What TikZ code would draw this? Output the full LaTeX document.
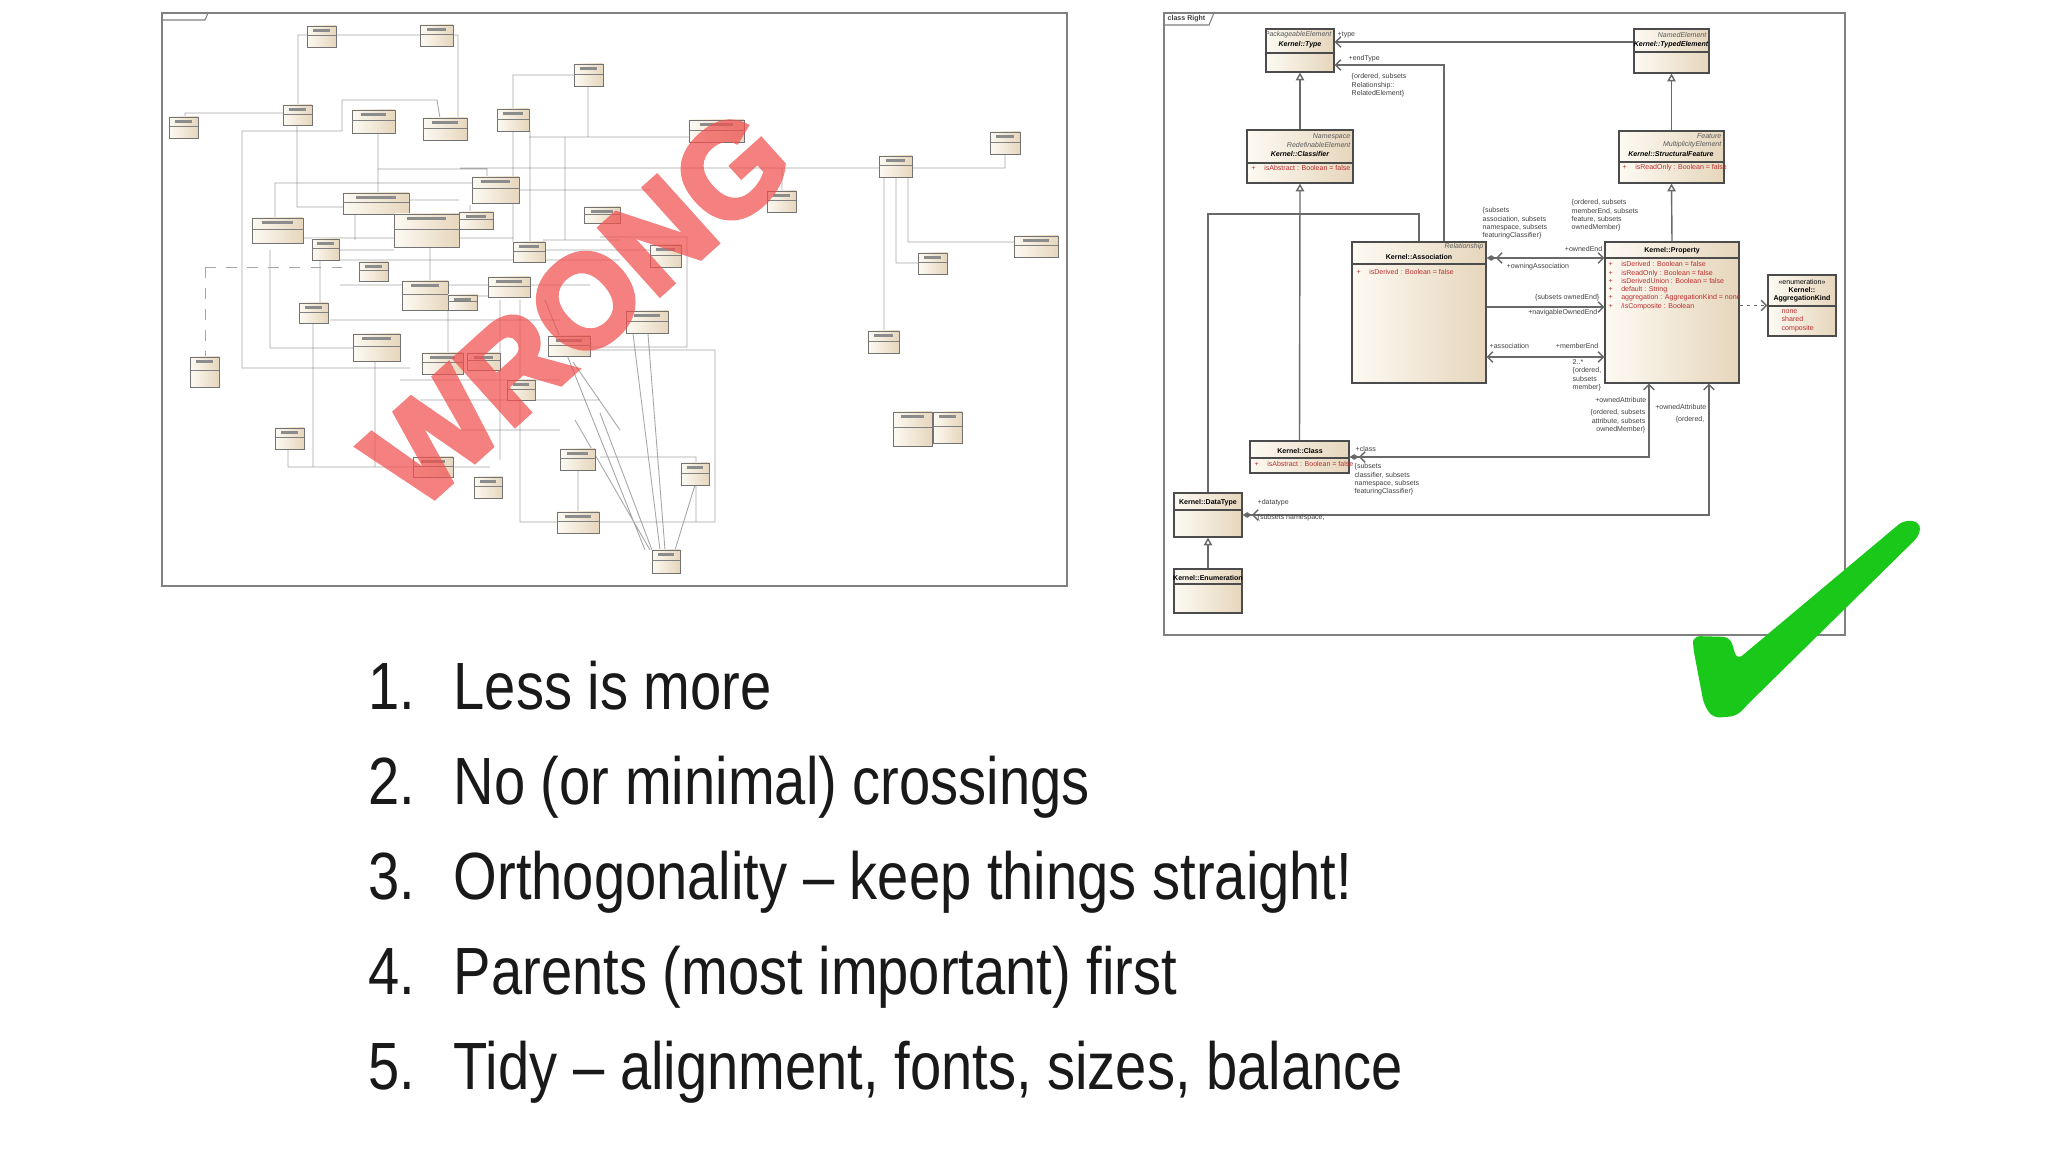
\documentclass[tikz,border=0pt]{standalone}
\usepackage{fontspec}
\setmainfont{Liberation Sans}
\newfontfamily\listfont[FakeStretch=0.84]{Liberation Sans}
\newfontfamily\stampfont[BoldFeatures={FakeBold=4}]{Liberation Sans}
\usetikzlibrary{positioning, fit, arrows.meta, shadows}

\definecolor{classlight}{RGB}{253,250,243}
\definecolor{classdark}{RGB}{230,214,188}
\definecolor{attrred}{RGB}{185,45,45}
\definecolor{linegray}{RGB}{105,105,105}
\definecolor{wrongred}{RGB}{240,80,80}
\definecolor{tickgreen}{RGB}{25,200,25}

\tikzset{umlclass/.style={draw=black!70, line width=0.35pt, left color=classlight, right color=classdark, inner sep=0pt, drop shadow={shadow xshift=0.35pt, shadow yshift=-0.35pt, fill=black!40, opacity=0.6}},
         sepline/.style={draw=black!70, line width=0.3pt},
         cname/.style={font=\fontsize{2}{2.4}\selectfont\bfseries, inner sep=0pt},
         aname/.style={font=\fontsize{2}{2.4}\selectfont\bfseries\itshape, inner sep=0pt},
         parent/.style={font=\fontsize{2}{2.4}\selectfont\itshape, text=black!65, inner sep=0pt},
         attr/.style={font=\fontsize{2}{2.36}\selectfont, text=attrred, inner sep=0pt, align=left},
         lbl/.style={font=\fontsize{2}{2.36}\selectfont, text=black!75, inner sep=0pt, align=left},
         conn/.style={draw=linegray, line width=0.4pt},
         gen/.style={conn, -{Triangle[open, length=2.2pt, width=2.4pt]}},
         nav/.style={conn, -{Straight Barb[length=1.5pt, width=3pt]}},
         navboth/.style={conn, {Straight Barb[length=1.5pt, width=3pt]}-{Straight Barb[length=1.5pt, width=3pt]}},
         comp/.style={conn, {Diamond[length=2.6pt, width=1.6pt] Straight Barb[length=1.5pt, width=3pt]}-{Straight Barb[length=1.5pt, width=3pt]}},
         dep/.style={conn, dashed, dash pattern=on 1pt off 1pt, -{Straight Barb[length=1.5pt, width=3pt]}},
         frame/.style={draw=black!50, line width=0.6pt},
         messline/.style={draw=black!35, line width=0.25pt},
         minibox/.style={draw=black!55, line width=0.2pt, left color=classlight, right color=classdark},
         listitem/.style={font=\listfont\fontsize{19}{23}\selectfont, text=black!90, inner sep=0pt}}

\newcommand{\plus}{+\hspace{2.4pt}}

\begin{document}
\begin{tikzpicture}[x=0.01cm, y=-0.01cm]
        \useasboundingbox (0,0) rectangle (2048,1152);
        \fill[white] (0,0) rectangle (2048,1152);

        % wrong diagram
        \draw[frame] (162,13) rectangle (1067,586);
        \draw[frame, line width=0.3pt] (162,20) -- (205,20) -- (208,13);
        \draw[messline] (307,35) -- (298,35) -- (298,105) (336,35) -- (420,35)
            (453,35) -- (458,35) -- (458,118) (185,117) -- (185,113) -- (283,113)
            (242,131) -- (242,368) -- (410,368) (242,131) -- (342,131) -- (342,100) -- (437,100) -- (440,118)
            (297,125) -- (297,207) -- (343,207) (275,218) -- (275,183) -- (473,183)
            (378,133) -- (378,193) (378,169) -- (487,169) -- (487,177)
            (513,131) -- (513,242) (530,131) -- (530,242) (529,137) -- (689,137)
            (513,109) -- (513,75) -- (574,75) (588,86) -- (588,137)
            (460,168) -- (1005,168) -- (1005,154) (782,168) -- (782,191)
            (519,190) -- (650,190) (303,238) -- (513,238) (545,250) -- (650,250)
            (884,177) -- (884,331) (896,177) -- (896,263) -- (918,263) (908,177) -- (908,242) -- (1014,242)
            (270,250) -- (270,348) -- (353,348) (313,323) -- (313,467)
            (288,449) -- (288,467) -- (490,467) (375,361) -- (375,467)
            (520,300) -- (520,522) -- (557,522) (578,470) -- (578,512)
            (600,237) -- (687,237) -- (687,347) -- (560,347)
            (560,350) -- (715,350) -- (715,522) -- (560,522) (600,457) -- (696,457) -- (696,522)
            (600,413) -- (652,550) (633,334) -- (660,550) (648,334) -- (665,550)
            (695,485) -- (675,550) (575,420) -- (650,550) (545,300) -- (645,550) (573,362) -- (620,430)
            (339,250) -- (394,250) (409,200) -- (459,200) (320,260) -- (320,303)
            (430,247) -- (430,281) (448,310) -- (448,353) (467,296) -- (488,296)
            (330,320) -- (560,320) (340,285) -- (590,285) (565,137) -- (565,240)
            (543,240) -- (620,240) (340,260) -- (620,260) (400,380) -- (560,380)
            (420,400) -- (600,400) (460,430) -- (560,430) (500,300) -- (500,460)
            (355,215) -- (355,240) (470,205) -- (470,230);
        \draw[messline, dashed] (205,267) -- (205,357) (205,267) -- (345,267);
        \foreach \xa/\ya/\xb/\yb in {307/26/336/47, 420/25/453/46, 574/64/603/86, 169/117/198/138,
            283/105/312/125, 352/110/395/133, 423/118/467/140, 497/109/529/131, 472/177/519/203,
            343/193/409/214, 252/218/303/243, 312/239/339/260, 394/214/459/247, 459/212/493/229,
            513/242/545/262, 359/262/388/281, 488/277/530/297, 402/281/448/310, 448/295/477/310,
            584/207/620/223, 299/303/328/323, 353/334/400/361, 190/357/219/387, 422/353/463/374,
            467/353/500/370, 507/380/535/400, 548/336/590/356, 275/428/304/449, 413/457/453/477,
            474/477/502/498, 560/449/595/470, 557/512/599/533, 689/120/744/142, 767/191/796/212,
            879/156/912/177, 990/132/1020/154, 918/253/947/274, 1014/236/1058/257, 650/245/681/267,
            626/311/668/333, 868/331/899/353, 893/412/932/446, 933/412/962/443, 681/463/709/485,
            652/550/680/573}{
            \draw[minibox] (\xa,\ya) rectangle (\xb,\yb);
            \fill[black!45] ({\xa+0.2*(\xb-\xa)},{\ya+3}) rectangle ({\xb-0.2*(\xb-\xa)},{\ya+6});
            \draw[black!50, line width=0.15pt] (\xa,{\ya+0.45*(\yb-\ya)}) -- (\xb,{\ya+0.45*(\yb-\ya)});
        }
        \begin{scope}[transparency group, opacity=0.72]
            \node (wrong) [rotate=42, text=wrongred, inner sep=0pt, font=\stampfont\bfseries\fontsize{37}{37}\selectfont] at (578,308) {WRONG};
        \end{scope}

        % right diagram
        \draw[frame] (1164,13) rectangle (1845,635);
        \draw[frame, line width=0.3pt] (1164,25) -- (1209,25) -- (1214,13);
        \node [lbl, font=\fontsize{2}{2.4}\selectfont\bfseries, anchor=west] at (1167,19) {class Right};

        \node (type) [umlclass, fit={(1266,29) (1334,72)}] {};
        \draw[sepline] (type.west |- 0,53) -- (type.east |- 0,53);
        \node [parent, anchor=east] at (1332,35) {PackageableElement};
        \node [aname] at (1300,45) {Kernel::Type};

        \node (classifier) [umlclass, fit={(1247,130) (1353,183)}] {};
        \draw[sepline] (classifier.west |- 0,163) -- (classifier.east |- 0,163);
        \node [parent, anchor=east] at (1351,137) {Namespace};
        \node [parent, anchor=east] at (1351,145) {RedefinableElement};
        \node [aname] at (1300,154) {Kernel::Classifier};
        \node [attr, anchor=west] at (1251,168) {\plus isAbstract : Boolean = false};

        \node (typed) [umlclass, fit={(1634,29) (1709,73)}] {};
        \draw[sepline] (typed.west |- 0,52) -- (typed.east |- 0,52);
        \node [parent, anchor=east] at (1707,35) {NamedElement};
        \node [aname] at (1671,45) {Kernel::TypedElement};

        \node (sfeat) [umlclass, fit={(1619,131) (1724,183)}] {};
        \draw[sepline] (sfeat.west |- 0,162) -- (sfeat.east |- 0,162);
        \node [parent, anchor=east] at (1722,136) {Feature};
        \node [parent, anchor=east] at (1722,145) {MultiplicityElement};
        \node [aname] at (1671,154) {Kernel::StructuralFeature};
        \node [attr, anchor=west] at (1622,168) {\plus isReadOnly : Boolean = false};

        \node (assoc) [umlclass, fit={(1352,242) (1486,383)}] {};
        \draw[sepline] (assoc.west |- 0,264) -- (assoc.east |- 0,264);
        \node [parent, anchor=east] at (1484,247) {Relationship};
        \node [cname] at (1419,257) {Kernel::Association};
        \node [attr, anchor=west] at (1356,272) {\plus isDerived : Boolean = false};

        \node (prop) [umlclass, fit={(1605,242) (1739,383)}] {};
        \draw[sepline] (prop.west |- 0,258) -- (prop.east |- 0,258);
        \node [cname] at (1672,251) {Kernel::Property};
        \node [attr, anchor=north west] at (1608,261) {\plus isDerived : Boolean = false\\
            \plus isReadOnly : Boolean = false\\ \plus isDerivedUnion : Boolean = false\\
            \plus default : String\\ \plus aggregation : AggregationKind = none\\ \plus /isComposite : Boolean};

        \node (aggr) [umlclass, fit={(1768,275) (1836,336)}] {};
        \draw[sepline] (aggr.west |- 0,306) -- (aggr.east |- 0,306);
        \node [lbl, text=black] at (1802,282) {«enumeration»};
        \node [cname] at (1802,290) {Kernel::};
        \node [cname] at (1802,299) {AggregationKind};
        \node [attr, anchor=north west] at (1781,309) {none\\ shared\\ composite};

        \node (kclass) [umlclass, fit={(1250,441) (1349,473)}] {};
        \draw[sepline] (kclass.west |- 0,458) -- (kclass.east |- 0,458);
        \node [cname] at (1300,451) {Kernel::Class};
        \node [attr, anchor=west] at (1254,464) {\plus isAbstract : Boolean = false};

        \node (datatype) [umlclass, fit={(1174,493) (1242,537)}] {};
        \draw[sepline] (datatype.west |- 0,510) -- (datatype.east |- 0,510);
        \node [cname] at (1208,503) {Kernel::DataType};

        \node (kenum) [umlclass, fit={(1174,569) (1242,613)}] {};
        \draw[sepline] (kenum.west |- 0,584) -- (kenum.east |- 0,584);
        \node [cname] at (1208,578) {Kernel::Enumeration};

        \draw[gen] (classifier.north) -- (type.south);
        \draw[gen] (sfeat.north) -- (typed.south);
        \draw[gen] (prop.north) -- (sfeat.south);
        \draw[gen] (kclass.north) -- (classifier.south);
        \draw[conn] (datatype.north) |- (classifier.south |- 0,214) -| (assoc.north);
        \draw[gen] (kenum.north) -- (datatype.south);
        \draw[nav] (typed.west |- 0,42) -- (type.east |- 0,42);
        \draw[nav] (assoc.north -| 1444,0) |- (type.east |- 0,65);
        \draw[comp] (assoc.east |- 0,258) -- (prop.west |- 0,258);
        \draw[nav] (assoc.east |- 0,307) -- (prop.west |- 0,307);
        \draw[navboth] (assoc.east |- 0,357) -- (prop.west |- 0,357);
        \draw[comp] (kclass.east) -| (prop.south -| 1649,0);
        \draw[comp] (datatype.east) -| (prop.south -| 1709,0);
        \draw[dep] (prop.east |- aggr.west) -- (aggr.west);

        \node [lbl, anchor=west] at (1337,35) {+type};
        \node [lbl, anchor=west] at (1348,59) {+endType};
        \node [lbl, anchor=north west] at (1351,73) {\{ordered, subsets\\ Relationship::\\ RelatedElement\}};
        \node [lbl, anchor=north west] at (1482,207) {\{subsets\\ association, subsets\\ namespace, subsets\\ featuringClassifier\}};
        \node [lbl, anchor=north west] at (1571,199) {\{ordered, subsets\\ memberEnd, subsets\\ feature, subsets\\ ownedMember\}};
        \node [lbl, anchor=east] at (1603,249) {+ownedEnd};
        \node [lbl, anchor=west] at (1506,267) {+owningAssociation};
        \node [lbl, anchor=east] at (1600,298) {\{subsets ownedEnd\}};
        \node [lbl, anchor=east] at (1598,313) {+navigableOwnedEnd};
        \node [lbl, anchor=west] at (1489,346) {+association};
        \node [lbl, anchor=east] at (1599,346) {+memberEnd};
        \node [lbl, anchor=north west] at (1572,359) {2..*\\ \{ordered,\\ subsets\\ member\}};
        \node [lbl, anchor=east] at (1647,400) {+ownedAttribute};
        \node [lbl, anchor=north east, align=right] at (1646,409) {\{ordered, subsets\\ attribute, subsets\\ ownedMember\}};
        \node [lbl, anchor=east] at (1707,407) {+ownedAttribute};
        \node [lbl, anchor=east] at (1705,420) {\{ordered,};
        \node [lbl, anchor=west] at (1355,449) {+class};
        \node [lbl, anchor=north west] at (1354,463) {\{subsets\\ classifier, subsets\\ namespace, subsets\\ featuringClassifier\}};
        \node [lbl, anchor=west] at (1257,503) {+datatype};
        \node [lbl, anchor=west] at (1257,518) {\{subsets namespace,};

        % tick
        \fill[tickgreen, rounded corners=2pt] (1693,636) -- (1730,637) -- (1737,660) -- (1904,520) -- (1920,522)
            -- (1920,535) -- (1747,705) -- (1737,716) -- (1713,718) -- (1704,705) -- (1693,647) -- cycle;

        % rules
        \node (num1) [listitem, anchor=base west] at (368,709) {1.};
        \node (item1) [listitem, anchor=base west] at (453,709) {Less is more};
        \node (num2) [listitem, anchor=base west] at (368,804) {2.};
        \node (item2) [listitem, anchor=base west] at (453,804) {No (or minimal) crossings};
        \node (num3) [listitem, anchor=base west] at (368,899) {3.};
        \node (item3) [listitem, anchor=base west] at (453,899) {Orthogonality – keep things straight!};
        \node (num4) [listitem, anchor=base west] at (368,994) {4.};
        \node (item4) [listitem, anchor=base west] at (453,994) {Parents (most important) first};
        \node (num5) [listitem, anchor=base west] at (368,1089) {5.};
        \node (item5) [listitem, anchor=base west] at (453,1089) {Tidy – alignment, fonts, sizes, balance};
\end{tikzpicture}
\end{document}
